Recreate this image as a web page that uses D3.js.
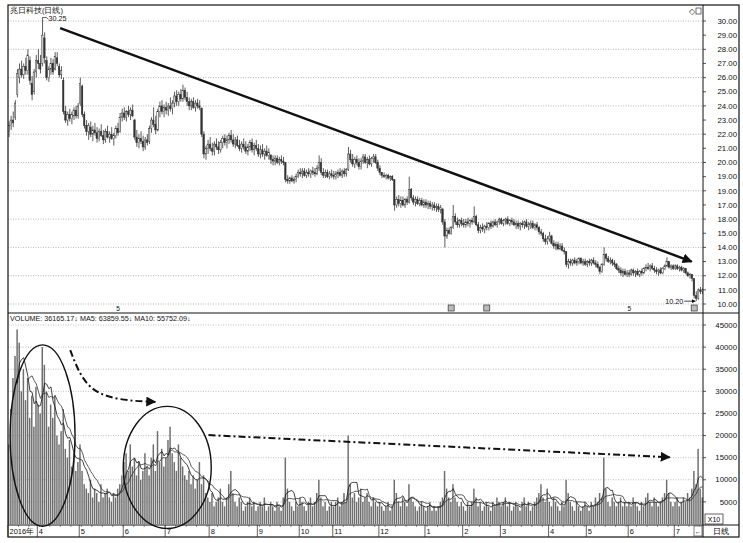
<!DOCTYPE html>
<html><head><meta charset="utf-8">
<script src="https://cdn.jsdelivr.net/npm/d3@7"></script>
<style>body{margin:0;background:#fff}svg{display:block}text{font-family:"Liberation Sans",Arial,sans-serif}</style>
</head><body><svg id="c" width="743" height="543"></svg>
<script>
const title = "兆日科技(日线)";
const volumeHeader = "VOLUME: 36165.17\u2193  MA5: 63859.55\u2193  MA10: 55752.09\u2193";
const monthLabels = ["2016年","4","5","6","7","8","9","10","11","12","1","2","3","4","5","6","7"];
const monthStarts = [0,14,34,55,75,96,119,139,155,177,199,217,235,258,276,296,318];
const priceTicks = [30,29,28,27,26,25,24,23,22,21,20,19,18,17,16,15,14,13,12,11,10];
const priceTickLabels = ["30.00","29.00","28.00","27.00","26.00","25.00","24.00","23.00","22.00","21.00","20.00","19.00","19.00","17.00","18.00","15.00","14.00","13.00","12.00","11.00","10.00"];
const volumeTicks = [5000,10000,15000,20000,25000,30000,35000,40000,45000];
// [open, high, low, close]
const candles = [
[22.2,22.9,21.8,22.6],[22.6,23.3,22.3,23.0],[23.0,23.6,22.5,22.8],[23.2,24.4,23.0,24.2],[24.8,26.6,24.6,26.3],
[26.0,27.0,25.6,26.6],[26.6,27.2,26.0,26.2],[26.2,27.0,25.9,26.8],[26.8,27.4,26.2,26.5],[26.5,28.0,26.2,27.6],
[27.2,27.5,25.5,25.8],[25.6,26.1,24.4,24.8],[25.0,26.6,24.8,26.4],[26.4,27.6,26.0,27.2],[27.2,28.0,26.6,27.0],
[27.0,27.6,26.3,26.6],[27.0,30.25,26.8,29.0],[28.8,29.2,27.0,27.4],[27.2,27.5,25.8,26.0],[26.0,26.8,25.7,26.6],
[26.6,27.4,26.2,27.0],[27.0,27.3,26.2,26.4],[26.6,27.8,26.5,27.5],[27.4,27.8,26.8,27.0],[26.8,27.0,26.0,26.2],
[26.2,26.8,25.9,26.5],[25.8,26.0,23.4,23.6],[23.6,24.0,22.8,23.0],[23.0,23.6,22.6,23.4],[23.4,23.8,22.9,23.1],
[23.1,23.6,22.7,23.4],[23.3,23.9,23.0,23.7],[23.7,24.0,23.1,23.3],[23.3,24.2,23.1,24.0],[24.2,26.0,24.0,25.6],
[25.4,25.5,23.2,23.4],[23.4,23.6,22.4,22.6],[22.6,23.0,21.9,22.2],[22.2,22.8,21.6,22.6],[22.5,22.9,21.8,22.0],
[22.0,22.6,21.5,22.3],[22.3,22.8,21.9,22.1],[22.1,22.5,21.4,21.7],[21.7,22.4,21.5,22.2],[22.2,22.7,21.8,21.9],
[21.9,22.3,21.3,21.6],[21.6,22.4,21.4,22.2],[22.2,22.6,21.7,21.8],[21.8,22.2,21.4,22.0],[22.0,22.5,21.6,21.7],
[21.7,22.1,21.2,21.9],[21.9,22.6,21.7,22.4],[22.4,22.8,21.9,22.1],[22.2,23.5,22.1,23.2],[23.2,23.8,22.9,23.5],
[23.5,23.9,23.0,23.2],[23.2,23.7,22.9,23.6],[23.6,24.0,23.2,23.4],[23.4,23.9,23.0,23.7],[23.7,24.1,23.2,23.3],
[23.0,23.1,21.6,21.8],[21.8,22.3,21.1,21.4],[21.4,22.0,21.0,21.7],[21.7,22.2,21.3,21.5],[21.5,21.9,20.8,21.1],
[21.1,21.8,20.9,21.6],[21.6,22.0,21.2,21.4],[21.5,22.6,21.3,22.4],[22.4,23.2,22.1,23.0],[23.0,23.9,22.5,22.7],
[22.7,23.3,22.0,22.3],[22.3,23.8,22.2,23.6],[23.6,24.3,23.2,24.0],[24.0,24.4,23.4,23.6],[23.6,24.1,23.2,23.9],
[23.9,24.3,23.4,23.7],[23.7,24.2,23.3,24.0],[24.0,24.6,23.6,23.8],[23.8,24.4,23.4,24.2],[24.2,25.0,23.9,24.7],
[24.7,25.1,24.0,24.3],[24.3,25.0,24.0,24.8],[24.8,25.2,24.3,24.5],[24.5,25.5,24.3,25.1],[25.1,25.3,24.4,24.6],
[24.6,25.0,24.0,24.3],[24.3,24.6,23.7,24.0],[24.0,24.5,23.7,24.3],[24.3,24.6,23.8,23.9],[23.9,24.4,23.6,24.2],
[24.2,24.5,23.8,24.0],[24.0,24.4,23.7,23.9],[23.8,23.9,21.8,22.0],[22.0,22.2,20.3,20.6],[20.6,21.2,20.2,21.0],
[21.0,21.6,20.6,21.3],[21.3,21.8,20.8,21.0],[21.0,21.4,20.5,20.8],[20.8,21.5,20.5,21.3],[21.3,21.7,20.9,21.1],
[21.1,21.5,20.6,20.9],[20.9,21.6,20.7,21.4],[21.4,21.9,21.0,21.7],[21.7,22.0,21.2,21.4],[21.4,21.9,21.0,21.6],
[21.6,22.1,21.3,21.9],[21.9,22.3,21.4,21.6],[21.6,22.0,21.1,21.3],[21.3,21.8,21.0,21.6],[21.6,21.9,21.1,21.2],
[21.2,21.6,20.8,21.0],[21.0,21.5,20.7,21.3],[21.3,21.7,20.9,21.1],[21.1,21.5,20.6,20.8],[20.8,21.3,20.5,21.1],
[21.1,21.6,20.8,21.4],[21.4,21.7,20.7,20.9],[20.9,21.4,20.5,21.2],[21.2,21.6,20.8,21.0],[21.0,21.3,20.4,20.6],
[20.6,21.2,20.3,20.9],[20.9,21.3,20.4,20.6],[20.6,21.0,20.2,20.8],[20.8,21.2,20.4,20.5],[20.5,21.0,20.2,20.7],
[20.5,20.6,19.9,20.2],[20.2,20.5,19.8,20.1],[20.1,20.5,19.8,20.3],[20.3,20.5,19.9,20.0],[20.0,20.4,19.8,20.2],
[20.2,20.5,19.9,20.1],[20.1,20.4,19.8,20.0],[20.0,20.0,18.6,18.8],[18.8,19.1,18.5,18.7],[18.7,19.0,18.5,18.9],
[18.9,19.1,18.6,18.7],[18.7,19.0,18.5,18.8],[18.8,19.2,18.6,19.0],[19.0,19.5,18.9,19.3],[19.3,19.6,19.0,19.2],
[19.2,19.6,18.9,19.4],[19.4,19.6,19.0,19.1],[19.1,19.5,18.9,19.3],[19.3,19.6,19.0,19.2],[19.2,19.5,18.9,19.4],
[19.4,19.7,19.1,19.3],[19.3,19.6,19.0,19.2],[19.2,19.8,19.1,19.6],[19.6,20.5,19.4,20.0],[20.0,20.3,19.1,19.3],
[19.3,19.6,18.9,19.1],[19.1,19.5,18.9,19.3],[19.3,19.5,18.9,19.0],[19.0,19.4,18.8,19.2],[19.2,19.5,18.9,19.1],
[19.1,19.4,18.8,19.0],[19.0,19.4,18.8,19.2],[19.2,19.5,18.9,19.3],[19.3,19.6,19.0,19.1],[19.1,19.5,18.9,19.4],
[19.4,19.6,19.0,19.2],[19.2,19.6,19.0,19.5],[19.5,21.1,19.4,20.6],[20.6,20.9,20.0,20.2],[20.2,20.6,19.7,19.9],
[19.9,20.4,19.6,20.2],[20.2,20.5,19.8,20.0],[20.0,20.3,19.5,19.7],[19.7,20.3,19.5,20.1],[20.1,20.6,19.9,20.4],
[20.4,20.6,19.9,20.0],[20.0,20.4,19.6,20.2],[20.2,20.5,19.8,19.9],[19.9,20.4,19.7,20.3],[20.3,20.6,20.0,20.4],
[20.4,20.6,19.9,20.0],[20.0,20.2,19.4,19.6],[19.6,19.8,19.1,19.3],[19.3,19.3,18.9,19.1],[19.1,19.3,18.9,19.0],
[19.0,19.2,18.8,19.1],[19.1,19.2,18.8,18.9],[18.9,19.1,18.7,19.0],[19.0,19.1,18.7,18.8],[18.8,18.8,16.6,17.0],
[17.0,17.6,16.8,17.4],[17.4,17.7,16.9,17.1],[17.1,17.6,16.8,17.3],[17.3,17.6,16.9,17.0],[17.0,17.5,16.8,17.4],
[17.4,17.6,17.0,17.2],[17.2,19.0,17.1,18.1],[18.1,18.2,17.3,17.5],[17.5,17.7,17.0,17.2],[17.2,17.6,16.9,17.4],
[17.4,17.6,17.0,17.1],[17.1,17.5,16.9,17.3],[17.3,17.5,16.9,17.0],[17.0,17.4,16.8,17.2],[17.2,17.4,16.8,17.0],
[17.0,17.3,16.7,17.1],[17.1,17.3,16.7,16.9],[16.9,17.2,16.6,17.0],[17.0,17.2,16.6,16.8],[16.8,17.1,16.5,16.9],
[16.9,17.1,16.5,16.7],[16.7,17.0,16.4,16.8],[16.7,16.8,15.6,15.8],[15.8,16.0,14.0,14.8],[14.8,15.4,14.6,15.2],
[15.2,15.4,14.9,15.0],[15.0,15.5,14.9,15.4],[15.4,17.0,15.3,16.2],[16.2,16.4,15.6,15.8],[15.8,16.1,15.4,15.6],
[15.6,16.0,15.4,15.9],[15.9,16.1,15.5,15.7],[15.7,16.0,15.4,15.6],[15.6,16.0,15.4,15.8],[15.8,16.1,15.5,15.7],
[15.7,16.0,15.4,15.9],[15.9,16.1,15.6,15.8],[15.8,16.9,15.7,16.2],[16.2,16.3,15.5,15.6],[15.6,15.8,15.0,15.2],
[15.2,15.6,15.0,15.4],[15.4,15.7,15.1,15.3],[15.3,15.6,15.0,15.5],[15.5,15.8,15.2,15.4],[15.4,15.8,15.2,15.7],
[15.7,15.9,15.3,15.5],[15.5,15.9,15.4,15.8],[15.8,16.0,15.5,15.6],[15.6,15.9,15.4,15.8],[15.8,16.1,15.6,16.0],
[16.0,16.1,15.6,15.7],[15.7,16.0,15.5,15.9],[15.9,16.1,15.6,16.0],[16.0,16.2,15.6,15.7],[15.7,16.0,15.5,15.9],
[15.9,16.1,15.6,15.8],[15.8,16.0,15.5,15.6],[15.6,15.9,15.3,15.7],[15.7,15.9,15.3,15.5],[15.5,15.8,15.2,15.7],
[15.7,15.9,15.4,15.6],[15.6,15.9,15.3,15.8],[15.8,16.0,15.4,15.5],[15.5,15.8,15.2,15.6],[15.6,15.9,15.3,15.7],
[15.7,15.9,15.3,15.4],[15.4,15.7,15.2,15.6],[15.6,15.8,15.2,15.4],[15.4,15.5,14.9,15.1],[15.1,15.3,14.8,15.0],
[15.0,15.1,14.4,14.6],[14.6,14.9,14.2,14.4],[14.4,14.8,14.2,14.6],[14.6,15.1,14.4,14.8],[14.8,14.9,14.2,14.3],
[14.3,14.5,13.9,14.1],[14.1,14.4,13.8,14.2],[14.2,14.4,13.8,13.9],[13.9,14.3,13.8,14.1],[14.1,14.3,13.7,13.8],
[13.8,14.0,13.5,13.7],[13.7,13.7,12.6,12.8],[12.8,13.2,12.5,13.0],[13.0,13.2,12.7,12.9],[12.9,13.2,12.7,13.1],
[13.1,13.3,12.8,12.9],[12.9,13.2,12.7,13.0],[13.0,13.3,12.8,13.2],[13.2,13.3,12.8,12.9],[12.9,13.2,12.7,13.0],
[13.0,13.2,12.7,12.8],[12.8,13.1,12.6,13.0],[13.0,13.2,12.7,12.9],[12.9,13.2,12.7,13.1],[13.1,13.3,12.8,12.9],
[12.9,13.1,12.6,12.8],[12.8,13.0,12.5,12.6],[12.6,12.7,12.1,12.3],[12.3,12.9,12.2,12.8],[12.8,14.0,12.7,13.5],
[13.5,13.6,13.0,13.2],[13.2,13.4,12.9,13.0],[13.0,13.3,12.8,13.1],[13.1,13.2,12.7,12.9],[12.9,13.1,12.6,12.8],
[12.8,12.9,12.4,12.5],[12.5,12.7,12.2,12.4],[12.4,12.6,12.0,12.2],[12.2,12.5,11.9,12.3],[12.3,12.5,12.0,12.1],
[12.1,12.4,11.9,12.2],[12.2,12.4,11.9,12.1],[12.1,12.5,12.0,12.4],[12.4,12.5,12.0,12.2],[12.2,12.4,11.9,12.3],
[12.3,12.5,12.0,12.1],[12.1,12.4,11.9,12.3],[12.3,12.5,12.0,12.2],[12.2,12.6,12.1,12.5],[12.5,12.8,12.3,12.6],
[12.6,12.9,12.4,12.5],[12.5,12.8,12.3,12.7],[12.7,12.9,12.4,12.5],[12.5,12.7,12.2,12.4],[12.4,12.6,12.1,12.3],
[12.3,12.5,12.0,12.4],[12.4,12.6,12.1,12.2],[12.2,12.6,12.1,12.5],[12.5,12.8,12.4,12.7],[12.7,13.3,12.6,13.0],
[13.0,13.0,12.5,12.6],[12.6,12.8,12.4,12.7],[12.7,12.8,12.4,12.5],[12.5,12.8,12.4,12.7],[12.7,12.8,12.4,12.5],
[12.5,12.7,12.3,12.6],[12.6,12.7,12.3,12.4],[12.4,12.6,12.2,12.5],[12.5,12.5,12.1,12.2],[12.2,12.3,11.9,12.0],
[12.0,12.2,11.8,12.1],[12.1,12.1,11.6,11.8],[11.8,11.8,10.4,10.6],[10.6,10.9,10.2,10.4],[10.4,11.1,10.3,11.0],
[11.0,11.2,10.7,10.9],[10.9,11.1,10.7,11.0]
];
// daily volume, thousands
const volumes = [
18,26,33,38,44,41,30,35,28,33,24,29,22,31,
27,25,40,36,30,22,27,24,29,20,18,21,26,17,15,19,13,16,12,14,
18,12,9,8,7,10,6,8,7,5,9,6,7,8,6,5,7,6,8,9,11,
14,16,12,18,13,15,11,14,10,12,16,13,11,15,18,12,21,14,17,13,
15,19,22,16,14,12,18,15,13,11,10,12,9,11,8,10,14,9,11,7,6,
5,7,4,5,6,8,5,4,6,9,12,7,5,4,6,5,3,4,5,6,4,5,3,
4,5,4,6,3,4,5,4,3,5,4,3,6,15,8,5,4,3,5,4,
6,5,4,3,5,6,4,5,7,10,6,4,5,3,4,5,
4,5,6,4,5,7,5,20,9,6,7,5,6,8,5,6,7,5,4,6,5,4,
5,4,3,4,5,3,4,10,7,5,4,6,5,4,9,6,5,4,3,4,5,4,
3,4,5,3,4,3,4,5,6,12,8,6,5,9,6,5,4,5,
4,3,5,4,5,8,6,4,5,3,4,5,4,3,5,4,6,5,
4,5,6,4,5,3,4,5,4,3,5,6,4,5,3,4,5,6,7,9,6,5,8,
5,4,6,5,4,3,5,4,10,7,5,4,3,5,4,3,4,5,
4,3,5,4,6,5,7,6,15,8,5,4,6,5,4,5,6,4,5,4,
5,4,6,5,4,3,5,4,6,7,5,4,6,5,4,5,6,7,10,7,5,4,
5,6,4,5,6,5,7,6,8,12,9,17,8,6
];
// annotations in data units: [barIndex, price] / [barIndex, volume]
const trendLine = [[24.4,29.5],[325.8,13.0]];
const volEllipses = [[16,20000,15.5,20500],[75.5,12800,21,13800]];
const dashArrow1 = [[29.2,39300],[36.3,30700],[50.7,28000],[69.8,27600]];
const dashArrow2 = [[95.2,20100],[315.3,15100]];
const peakMark = [16,30.25,"30.25"];
const lowMark = [328,10.2,"10.20"];
const eventBoxes = [211,228,327];
const fiveMarks = [52,296];

const svg = d3.select("#c");
const L=8, R=703, AX=739, T=5, PB=313, VB=525, B=537;
const n = candles.length;
const x = d3.scaleBand().domain(d3.range(n)).range([L,R]).paddingInner(0.3);
const step = x.step(), bw = x.bandwidth();
const xc = i => L + (i+0.5)*step;
const y = d3.scaleLinear().domain([10,30]).range([304,21]);
const yv = d3.scaleLinear().domain([0,45000]).range([524,325]);

const defs = svg.append("defs");
defs.append("marker").attr("id","ah").attr("viewBox","0 0 10 10").attr("refX",9).attr("refY",5)
  .attr("markerWidth",5).attr("markerHeight",5).attr("orient","auto")
  .append("path").attr("d","M0,0L10,5L0,10z").attr("fill","#111");
defs.append("marker").attr("id","ah2").attr("viewBox","0 0 10 10").attr("refX",9).attr("refY",5)
  .attr("markerWidth",4.2).attr("markerHeight",4.2).attr("orient","auto")
  .append("path").attr("d","M0,0L10,5L0,10z").attr("fill","#111");
defs.append("clipPath").attr("id","cp").append("rect").attr("x",L).attr("y",T).attr("width",R-L).attr("height",PB-T);

// grid
const g = svg.append("g");
g.selectAll(".pg").data(priceTicks.filter(d=>d%2===0)).join("line")
  .attr("x1",L).attr("x2",R).attr("y1",d=>y(d)).attr("y2",d=>y(d))
  .attr("stroke","#9a9a9a").attr("stroke-width",0.7).attr("stroke-dasharray","1,1.5");
g.selectAll(".vg").data(volumeTicks).join("line")
  .attr("x1",L).attr("x2",R).attr("y1",d=>yv(d)).attr("y2",d=>yv(d))
  .attr("stroke","#a5a5a5").attr("stroke-width",0.7).attr("stroke-dasharray","1,1.5");

// right axes
const ax = svg.append("g").attr("font-size",7.8).attr("fill","#111");
ax.selectAll(".pt").data(priceTicks).join("text").attr("x",737).attr("y",d=>y(d)+2.7)
  .attr("text-anchor","end").text((d,i)=>priceTickLabels[i]);
ax.selectAll(".ptk").data(priceTicks).join("line").attr("x1",R).attr("x2",R+3)
  .attr("y1",d=>y(d)).attr("y2",d=>y(d)).attr("stroke","#111").attr("stroke-width",0.7);
ax.selectAll(".vt").data(volumeTicks).join("text").attr("x",737).attr("y",d=>yv(d)+2.7)
  .attr("text-anchor","end").text(d=>d);
ax.selectAll(".vtk").data(volumeTicks).join("line").attr("x1",R).attr("x2",R+3)
  .attr("y1",d=>yv(d)).attr("y2",d=>yv(d)).attr("stroke","#111").attr("stroke-width",0.7);

// candles
const cg = svg.append("g").attr("clip-path","url(#cp)");
cg.selectAll(".wk").data(candles).join("line")
  .attr("x1",(d,i)=>xc(i)).attr("x2",(d,i)=>xc(i))
  .attr("y1",d=>y(d[1])).attr("y2",d=>y(d[2])).attr("stroke","#333").attr("stroke-width",0.8);
cg.selectAll(".bd").data(candles).join("rect")
  .attr("x",(d,i)=>x(i)).attr("width",bw)
  .attr("y",d=>y(Math.max(d[0],d[3])))
  .attr("height",d=>Math.max(0.8,Math.abs(y(d[0])-y(d[3]))))
  .attr("fill",d=>d[3]>=d[0]?"#fff":"#333").attr("stroke","#333").attr("stroke-width",0.5);

// volume bars
svg.append("g").selectAll("rect").data(volumes).join("rect")
  .attr("x",(d,i)=>x(i)).attr("width",bw)
  .attr("y",d=>yv(d*1000)).attr("height",d=>yv(0)-yv(d*1000))
  .attr("fill","#6e6e6e");
function ma(k){return volumes.map((d,i)=> i<k-1?null:d3.mean(volumes.slice(i-k+1,i+1))*1000);}
[5,10].forEach((k,j)=>{
  const m = ma(k);
  svg.append("path").datum(m).attr("fill","none").attr("stroke",j?"#333":"#111").attr("stroke-width",0.8)
    .attr("d",d3.line().defined(d=>d!==null).x((d,i)=>xc(i)).y(d=>yv(d)));
});

// frames
const fr = svg.append("g").attr("stroke","#111").attr("fill","none");
fr.append("rect").attr("x",L).attr("y",T).attr("width",AX-L).attr("height",B-T).attr("stroke-width",1.2);
fr.append("line").attr("x1",R).attr("x2",R).attr("y1",T).attr("y2",B).attr("stroke-width",1);
fr.append("line").attr("x1",L).attr("x2",AX).attr("y1",PB).attr("y2",PB).attr("stroke-width",1);
fr.append("line").attr("x1",L).attr("x2",AX).attr("y1",VB).attr("y2",VB).attr("stroke-width",1);

// bottom time axis
const ta = svg.append("g");
ta.selectAll(".mt").data(monthStarts).join("line")
  .attr("x1",d=>L+d*step).attr("x2",d=>L+d*step).attr("y1",VB).attr("y2",B)
  .attr("stroke","#222").attr("stroke-width",0.7);
ta.selectAll(".mn").data(d3.range(0,n,5)).join("line")
  .attr("x1",d=>L+d*step).attr("x2",d=>L+d*step).attr("y1",VB).attr("y2",VB+2)
  .attr("stroke","#444").attr("stroke-width",0.6);
ta.selectAll("text").data(monthLabels).join("text")
  .attr("x",(d,i)=>L+monthStarts[i]*step+1.5).attr("y",B-3)
  .attr("font-size",7.5).attr("fill","#111").text(d=>d);
ta.append("rect").attr("x",R-9).attr("y",VB+1).attr("width",8).attr("height",B-VB-2).attr("fill","#fff").attr("stroke","#333").attr("stroke-width",0.6);
ta.append("text").attr("x",R-5).attr("y",B-3.5).attr("font-size",6.5).attr("text-anchor","middle").text("\u2190");
ta.append("text").attr("x",721).attr("y",B-3).attr("font-size",7.5).attr("text-anchor","middle").text("日线");
ta.append("rect").attr("x",R+2).attr("y",VB-11).attr("width",18).attr("height",10).attr("fill","#fff").attr("stroke","#222").attr("stroke-width",0.7);
ta.append("text").attr("x",R+11).attr("y",VB-3).attr("font-size",7).attr("text-anchor","middle").text("X10");

// texts
svg.append("text").attr("x",L+2).attr("y",T+8).attr("font-size",7.5).attr("fill","#111").text(title);
svg.append("text").attr("x",L+2).attr("y",PB+8).attr("font-size",7.2).attr("fill","#111").text(volumeHeader);
svg.append("text").attr("x",R-14).attr("y",T+9).attr("font-size",8).attr("fill","#333").text("\u25C7");
svg.append("rect").attr("x",R-7).attr("y",T+3).attr("width",5).attr("height",6).attr("fill","#fff").attr("stroke","#333").attr("stroke-width",0.7);

// peak / low marks
{
  const px = xc(peakMark[0]), py = y(peakMark[1]);
  svg.append("path").attr("d",`M${px},${py}L${px+4},${py}L${px+6},${py+2}`).attr("stroke","#222").attr("fill","none").attr("stroke-width",0.7);
  svg.append("text").attr("x",px+6).attr("y",py+4).attr("font-size",7.2).attr("fill","#111").text(peakMark[2]);
  const lx = xc(lowMark[0]), ly = y(lowMark[1]);
  svg.append("line").attr("x1",lx-12).attr("x2",lx-1).attr("y1",ly).attr("y2",ly).attr("stroke","#111").attr("stroke-width",0.8).attr("marker-end","url(#ah)");
  svg.append("text").attr("x",lx-13).attr("y",ly+2.5).attr("font-size",7.2).attr("text-anchor","end").attr("fill","#111").text(lowMark[2]);
}
svg.selectAll(".eb").data(eventBoxes).join("rect").attr("x",d=>xc(d)-3).attr("y",PB-8).attr("width",6).attr("height",6)
  .attr("fill","#bbb").attr("stroke","#333").attr("stroke-width",0.7);
svg.selectAll(".fm").data(fiveMarks).join("text").attr("x",d=>xc(d)).attr("y",PB-2).attr("font-size",6.5)
  .attr("text-anchor","middle").attr("fill","#111").text("5");

// trend line
svg.append("line").attr("x1",xc(trendLine[0][0])).attr("y1",y(trendLine[0][1]))
  .attr("x2",xc(trendLine[1][0])).attr("y2",y(trendLine[1][1]))
  .attr("stroke","#111").attr("stroke-width",2.4).attr("marker-end","url(#ah2)");

// ellipses
svg.selectAll(".el").data(volEllipses).join("ellipse")
  .attr("cx",d=>xc(d[0])).attr("cy",d=>yv(d[1])).attr("rx",d=>d[2]*step).attr("ry",d=>yv(0)-yv(d[3]))
  .attr("fill","none").attr("stroke","#111").attr("stroke-width",1.4);
const dl = d3.line().x(d=>xc(d[0])).y(d=>yv(d[1])).curve(d3.curveBasis);
[dashArrow1,dashArrow2].forEach(a=>{
  svg.append("path").attr("d",dl(a)).attr("fill","none").attr("stroke","#111").attr("stroke-width",2)
    .attr("stroke-dasharray","7,3,2,3").attr("marker-end","url(#ah)");
});
</script></body></html>
